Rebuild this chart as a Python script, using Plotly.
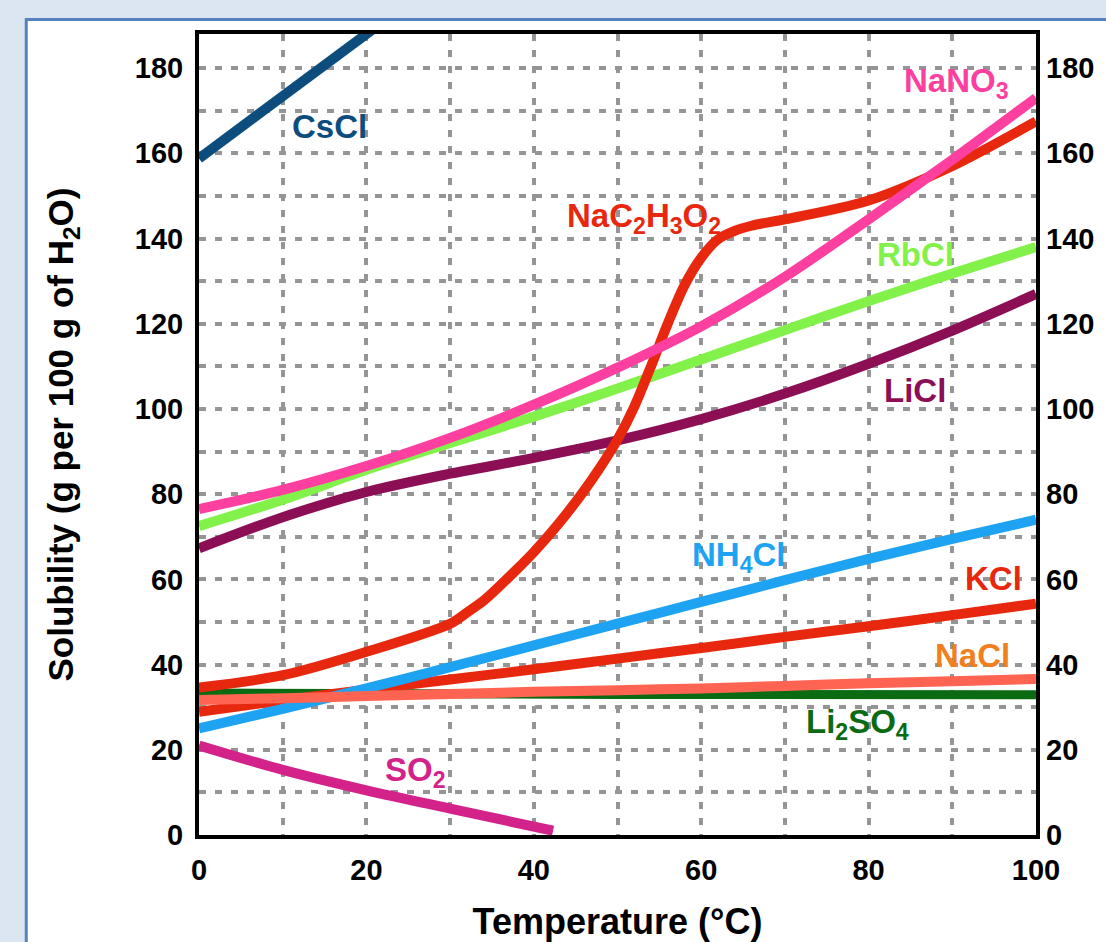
import plotly.graph_objects as go

# ---------------- data ----------------
T_std = [0, 10, 20, 30, 40, 50, 60, 70, 80, 90, 100]

nano3 = [76.5, 81, 86.6, 93.2, 101, 109.7, 119.4, 131, 144.5, 158.5, 173]
rbcl = [72.5, 78.7, 85.7, 92, 98.2, 104.8, 111.6, 118.5, 125.3, 131.8, 138]
licl = [67.3, 74.6, 80.5, 84.8, 88.5, 92.6, 97.6, 103.6, 110.6, 118.4, 127]
nh4cl = [25, 29.6, 34.4, 39.4, 44.5, 49.6, 54.7, 59.8, 64.8, 69.5, 74]
kcl = [28.9, 31.6, 34.1, 36.5, 38.9, 41.4, 43.9, 46.5, 49.0, 51.6, 54.3]
nacl = [31.7, 32.1, 32.6, 33.1, 33.6, 34, 34.4, 35, 35.6, 36.1, 36.6]

T_li2so4 = [0, 50, 100]
li2so4 = [33.3, 33.0, 32.9]

T_nac2h3o2 = [0, 10, 20, 30, 32, 34, 36, 38, 40, 42, 44, 46, 48, 50, 52, 54,
              56, 58, 60, 62, 64, 66, 68, 70, 80, 90, 100]
nac2h3o2 = [34.6, 37.5, 43, 49.6, 52.2, 55, 58.6, 62.4, 66.4, 70.8, 75.6, 80.8,
            86.5, 92.8, 100.5, 110, 120, 129, 135.5, 139.8, 141.8, 143, 143.8,
            144.5, 148.9, 157, 167.5]

T_so2 = [0, 10, 20, 30, 42.3]
so2 = [21, 15.3, 10.5, 6.2, 1.0]

T_cscl = [0, 22]
cscl = [158.8, 190.9]

x_ticks = [0, 20, 40, 60, 80, 100]
y_ticks = [0, 20, 40, 60, 80, 100, 120, 140, 160, 180]

# ---------------- styles ----------------
FONT = "Liberation Sans"
C_RED = "#e8280e"
LW = 10
series = [
    # name, x, y, color, width
    ("Li2SO4", T_li2so4, li2so4, "#0b6b12", 9),
    ("KCl", T_std, kcl, C_RED, LW),
    ("NH4Cl", T_std, nh4cl, "#1ea3f2", LW),
    ("NaCl", T_std, nacl, "#ff6452", LW),
    ("SO2", T_so2, so2, "#d3228a", LW),
    ("LiCl", T_std, licl, "#8c0f55", LW),
    ("RbCl", T_std, rbcl, "#82f24a", LW),
    ("NaC2H3O2", T_nac2h3o2, nac2h3o2, C_RED, LW),
    ("NaNO3", T_std, nano3, "#fd40a0", LW),
]

labels = [
    # text, x, y, color
    ("CsCl", 15.6, 166.4, "#0d4d7e"),
    ("NaNO<sub>3</sub>", 90.5, 176.5, "#fd40a0"),
    ("NaC<sub>2</sub>H<sub>3</sub>O<sub>2</sub>", 53.2, 144.8, C_RED),
    ("RbCl", 85.6, 136.3, "#82f24a"),
    ("LiCl", 85.5, 104.3, "#8c0f55"),
    ("NH<sub>4</sub>Cl", 64.5, 65.3, "#1ea3f2"),
    ("KCl", 94.9, 60.2, C_RED),
    ("NaCl", 92.4, 42.1, "#f27f1e"),
    ("Li<sub>2</sub>SO<sub>4</sub>", 78.7, 26.1, "#0b6b12"),
    ("SO<sub>2</sub>", 25.9, 14.8, "#d3228a"),
]

fig = go.Figure()
for name, xs, ys, col, w in series:
    fig.add_trace(go.Scatter(x=xs, y=ys, mode="lines", name=name,
                             line=dict(color=col, width=w, shape="spline", smoothing=0.9),
                             hoverinfo="skip"))
# CsCl on the right-hand axis (same scale) so the mirrored tick labels exist
fig.add_trace(go.Scatter(x=T_cscl, y=cscl, mode="lines", name="CsCl", yaxis="y2",
                         line=dict(color="#0d4d7e", width=LW), hoverinfo="skip"))

for text, x, y, col in labels:
    fig.add_annotation(x=x, y=y, xref="x", yref="y", text=text, showarrow=False,
                       xanchor="center", yanchor="middle",
                       font=dict(family=FONT, size=33, color=col, weight="bold"))

GRID = dict(showgrid=True, gridcolor="#959595", gridwidth=3.5, griddash="7px,9px")
MINOR = dict(dtick=10, tick0=0, showgrid=True, gridcolor="#959595",
             gridwidth=3.5, griddash="7px,9px")
tickfont = dict(family=FONT, size=29, color="black", weight="bold")

YR = [0, 188]
fig.update_layout(
    width=1106, height=942, autosize=False,
    margin=dict(l=199, r=70, t=34, b=107, autoexpand=False),
    paper_bgcolor="#dce6f2", plot_bgcolor="white",
    showlegend=False,
    xaxis=dict(range=[0, 100], tickvals=x_ticks, ticks="", ticklabelstandoff=6,
               tickfont=tickfont, showline=True, linewidth=4, linecolor="black",
               mirror=True, zeroline=False, minor=MINOR, automargin=False,
               title=dict(text="Temperature (°C)", standoff=33,
                          font=dict(family=FONT, size=36, color="black", weight="bold")),
               **GRID),
    yaxis=dict(range=YR, tickvals=y_ticks, ticks="", ticklabelstandoff=6,
               tickfont=tickfont, showline=True, linewidth=4, linecolor="black",
               mirror=True, zeroline=False, minor=MINOR, automargin=False,
               title=dict(text="Solubility (g per 100 g of H<sub>2</sub>O)", standoff=52,
                          font=dict(family=FONT, size=35, color="black", weight="bold")),
               **GRID),
    yaxis2=dict(range=YR, tickvals=y_ticks, overlaying="y", side="right", anchor="x",
                ticks="", ticklabelstandoff=9, tickfont=tickfont, showgrid=False,
                zeroline=False, showline=False, automargin=False),
)

# white slide panel with a blue border
fig.add_shape(type="rect", xref="paper", yref="paper",
              x0=-0.2064, x1=1.4, y0=-0.4, y1=1.0181,
              fillcolor="white", line=dict(color="#5582bf", width=3), layer="below")

fig.write_html("out.html", config={"displayModeBar": False},
               post_script="document.body.style.margin='0';document.body.style.overflow='hidden';")
